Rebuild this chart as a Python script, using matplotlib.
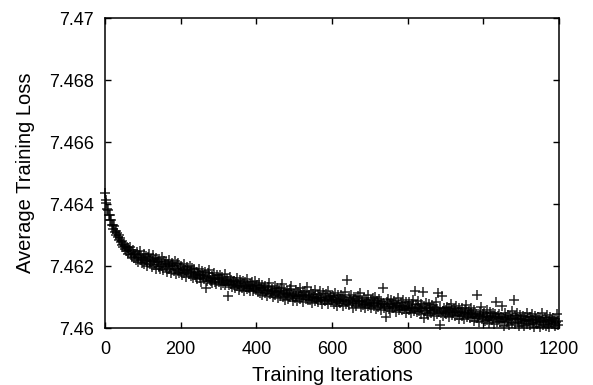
import numpy as np
import matplotlib
matplotlib.use("Agg")
import matplotlib.pyplot as plt
from matplotlib.ticker import FuncFormatter

# iterations logged every 2 steps
iterations = np.arange(0, 1200, 2)

# loss values, stored as offset above 7.46 in units of 1e-5
loss_base = 7.46
loss_offset_1e5 = [
    436, 412, 404, 384, 381, 364, 366, 349, 348, 333,
    334, 321, 328, 309, 313, 300, 306, 294, 301, 283,
    291, 276, 268, 281, 262, 270, 255, 266, 249, 262,
    258, 240, 251, 263, 236, 245, 229, 252, 238, 226,
    239, 221, 244, 230, 214, 236, 248, 218, 227, 209,
    226, 238, 207, 219, 231, 212, 199, 228, 240, 215,
    208, 222, 196, 215, 234, 203, 219, 191, 226, 212,
    213, 198, 224, 189, 205, 230, 201, 186, 217, 208,
    196, 214, 182, 205, 221, 190, 199, 176, 210, 202,
    200, 185, 217, 192, 174, 206, 188, 211, 179, 195,
    182, 199, 171, 190, 208, 177, 186, 164, 196, 184,
    188, 173, 201, 169, 182, 195, 160, 178, 190, 171,
    166, 182, 157, 175, 189, 162, 171, 150, 184, 168,
    172, 158, 181, 128, 166, 151, 176, 163, 187, 155,
    153, 169, 146, 162, 178, 149, 158, 141, 170, 157,
    161, 147, 172, 138, 155, 166, 144, 152, 175, 140,
    146, 158, 104, 151, 139, 164, 143, 155, 133, 148,
    139, 153, 130, 147, 161, 134, 142, 124, 156, 137,
    144, 128, 152, 136, 119, 147, 133, 158, 126, 139,
    130, 143, 121, 137, 149, 118, 134, 126, 152, 129,
    124, 138, 115, 131, 145, 112, 128, 140, 107, 123,
    129, 114, 137, 119, 103, 132, 122, 146, 110, 118,
    113, 127, 101, 121, 136, 108, 117, 130, 96, 115,
    120, 104, 128, 110, 142, 99, 114, 123, 92, 111,
    106, 119, 95, 112, 126, 101, 134, 108, 88, 103,
    111, 97, 123, 102, 86, 115, 104, 129, 93, 107,
    99, 112, 85, 106, 120, 94, 103, 131, 90, 100,
    105, 91, 116, 97, 80, 110, 99, 124, 88, 96,
    94, 107, 83, 100, 118, 89, 96, 76, 112, 92,
    98, 86, 109, 91, 121, 79, 95, 104, 84, 100,
    89, 102, 78, 96, 113, 85, 92, 70, 107, 88,
    94, 81, 105, 86, 72, 99, 90, 116, 79, 87,
    156, 83, 98, 74, 91, 108, 80, 88, 66, 101,
    80, 95, 71, 88, 104, 77, 86, 112, 68, 84,
    87, 73, 97, 79, 64, 92, 83, 106, 70, 78,
    75, 89, 66, 82, 98, 71, 80, 101, 60, 86,
    81, 68, 93, 74, 58, 88, 77, 130, 64, 79,
    72, 36, 84, 69, 95, 62, 76, 54, 89, 70,
    77, 63, 88, 67, 52, 82, 71, 96, 58, 74,
    66, 80, 57, 72, 91, 61, 69, 50, 85, 64,
    71, 58, 83, 63, 47, 77, 66, 92, 55, 120,
    60, 74, 52, 67, 86, 56, 64, 44, 79, 61,
    116, 33, 70, 55, 81, 50, 63, 42, 76, 58,
    64, 49, 74, 55, 40, 69, 57, 85, 46, 61,
    112, 52, 66, 10, 48, 104, 54, 38, 63, 50,
    59, 44, 68, 51, 35, 64, 53, 78, 41, 57,
    49, 62, 38, 54, 72, 43, 51, 30, 66, 47,
    53, 39, 63, 45, 28, 58, 48, 74, 34, 51,
    42, 56, 31, 47, 65, 36, 44, 24, 59, 40,
    46, 33, 105, 38, 20, 52, 41, 68, 29, 44,
    34, 49, 22, 39, 58, 27, 37, 15, 52, 33,
    40, 26, 47, 31, 12, 44, 35, 84, 21, 38,
    30, 45, 18, 36, 72, 24, 33, 8, 48, 29,
    35, 21, 42, 27, 10, 39, 30, 56, 17, 33,
    90, 40, 14, 31, 48, 19, 28, 5, 43, 26,
    30, 17, 38, 23, 6, 34, 26, 50, 12, 29,
    22, 37, 11, 27, 44, 16, 25, 3, 40, 21,
    28, 14, 35, 20, 4, 31, 24, 47, 10, 26,
    19, 33, 8, 25, 42, 13, 22, 2, 37, 18,
    26, 12, 31, 17, 5, 29, 21, 44, 9, 24,
]
loss = loss_base + np.array(loss_offset_1e5) * 1e-5

x_ticks = [0, 200, 400, 600, 800, 1000, 1200]
y_ticks = [7.46, 7.462, 7.464, 7.466, 7.468, 7.47]

plt.rcParams['font.family'] = ['Liberation Sans', 'DejaVu Sans']

fig = plt.figure(figsize=(5.93, 3.85), dpi=100)
ax = fig.add_axes([0.177, 0.148, 0.766, 0.805])

ax.plot(iterations, loss, linestyle='none', marker='+', markersize=6.5,
        markeredgewidth=1.1, color='black', alpha=0.85, clip_on=False)

ax.set_xlim(0, 1200)
ax.set_ylim(7.46, 7.47)
ax.set_xticks(x_ticks)
ax.set_yticks(y_ticks)
ax.yaxis.set_major_formatter(FuncFormatter(lambda v, pos: '%g' % round(v, 4)))

ax.tick_params(direction='in', length=4, width=1, top=True, right=True,
               labelsize=13)
ax.tick_params(axis='x', pad=9)
ax.tick_params(axis='y', pad=8)
for s in ax.spines.values():
    s.set_linewidth(1.1)

ax.set_xlabel('Training Iterations', fontsize=14.5, labelpad=6)
ax.set_ylabel('Average Training Loss', fontsize=14.5, labelpad=10)

fig.savefig('out.png', dpi=100)
